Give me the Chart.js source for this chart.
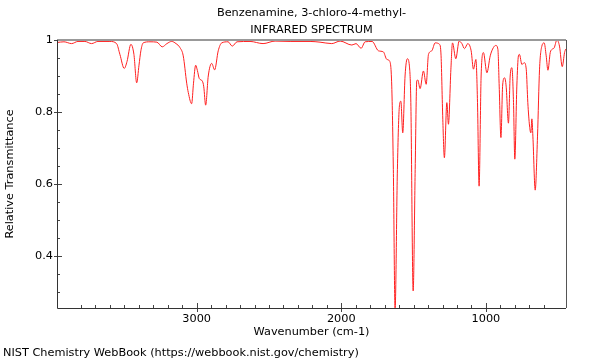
<!DOCTYPE html>
<html>
<head>
<meta charset="utf-8">
<script src="https://cdn.jsdelivr.net/npm/chart.js@4.4.1/dist/chart.umd.min.js"></script>
<style>
  body { margin: 0; background: #fff; }
  #chartIR { display: block; }
</style>
</head>
<body>
<canvas id="chartIR" width="600" height="360"></canvas>
<script>
const titleLines = ["Benzenamine, 3-chloro-4-methyl-", "INFRARED SPECTRUM"];
const xTitle = "Wavenumber (cm-1)";
const yTitle = "Relative Transmittance";
const footer = "NIST Chemistry WebBook (https://webbook.nist.gov/chemistry)";

// wavenumber (cm-1) and relative transmittance
const wavenumber = [
  3967, 3918, 3865, 3821, 3773, 3727, 3683, 3600, 3554, 3531,
  3501, 3482, 3455, 3434, 3415, 3399, 3386, 3370, 3323, 3275,
  3238, 3206, 3173, 3143, 3116, 3093, 3069, 3058, 3035, 3022,
  3007, 2995, 2982, 2961, 2951, 2938, 2920, 2896, 2876, 2851,
  2827, 2783, 2754, 2721, 2631, 2541, 2458, 2354, 2216, 2147,
  2066, 2008, 1927, 1898, 1863, 1835, 1787, 1743, 1709, 1685,
  1667, 1651, 1640, 1628, 1612, 1598, 1588, 1575, 1559, 1543,
  1529, 1519, 1503, 1489, 1478, 1471, 1455, 1432, 1413, 1397,
  1374, 1351, 1321, 1310, 1298, 1287, 1270, 1259, 1242, 1231,
  1208, 1185, 1166, 1148, 1125, 1102, 1086, 1069, 1058, 1047,
  1033, 1017, 993, 970, 948, 931, 917, 908, 896, 884,
  871, 860, 844, 832, 820, 809, 800, 786, 775, 768,
  751, 735, 721, 710, 698, 689, 682, 675, 659, 643,
  629, 613, 597, 583, 571, 555, 543, 528, 509, 491,
  472, 456, 448
];
const transmittance = [
  0.993, 0.995, 0.990, 0.996, 0.996, 0.990, 0.996, 0.996, 0.990, 0.960,
  0.921, 0.940, 0.988, 0.960, 0.881, 0.930, 0.970, 0.992, 0.995, 0.994,
  0.981, 0.990, 0.996, 0.990, 0.979, 0.956, 0.880, 0.854, 0.823, 0.880,
  0.930, 0.915, 0.893, 0.886, 0.870, 0.819, 0.900, 0.935, 0.917, 0.970,
  0.992, 0.995, 0.983, 0.995, 0.996, 0.990, 0.997, 0.996, 0.996, 0.994,
  0.990, 0.997, 0.986, 0.990, 0.977, 0.995, 0.996, 0.970, 0.967, 0.946,
  0.942, 0.872, 0.640, 0.250, 0.640, 0.817, 0.830, 0.742, 0.900, 0.948,
  0.928, 0.826, 0.303, 0.640, 0.886, 0.889, 0.865, 0.914, 0.877, 0.960,
  0.970, 0.992, 0.988, 0.956, 0.780, 0.673, 0.826, 0.766, 0.919, 0.992,
  0.948, 0.997, 0.990, 0.976, 0.990, 0.970, 0.919, 0.946, 0.826, 0.594,
  0.900, 0.965, 0.909, 0.956, 0.979, 0.985, 0.974, 0.872, 0.729, 0.875,
  0.895, 0.872, 0.769, 0.900, 0.923, 0.826, 0.669, 0.872, 0.956, 0.960,
  0.932, 0.937, 0.919, 0.826, 0.761, 0.742, 0.781, 0.733, 0.583, 0.733,
  0.919, 0.983, 0.992, 0.956, 0.916, 0.965, 0.974, 0.978, 1.000, 0.983,
  0.926, 0.965, 0.975
];

const xRange = [446, 3966];
const yRange = [0.2556, 1];
const xMinorStep = 100, xMajorStep = 1000;
const yMinorStep = 0.05, yMajorStep = 0.2;

const FONT = "DejaVu Sans";
const FONT_SIZE = 11.3;
const isMajor = (v, step) => Math.abs(v / step - Math.round(v / step)) < 1e-6;

const points = wavenumber.map((w, i) => ({ x: w, y: transmittance[i] }));

// ticks, frame and texts drawn on top of the chart
const decorPlugin = {
  id: "decor",
  afterDraw(chart) {
    const ctx = chart.ctx;
    const a = chart.chartArea;
    const xs = chart.scales.x, ys = chart.scales.y;
    ctx.save();

    ctx.strokeStyle = "#444";
    ctx.lineWidth = 1;
    ctx.beginPath();
    xs.ticks.forEach((t) => {
      const px = Math.round(xs.getPixelForValue(t.value)) + 0.5;
      if (isMajor(t.value, xMajorStep)) {
        ctx.moveTo(px, a.bottom - 5); ctx.lineTo(px, a.bottom + 4);
      } else {
        ctx.moveTo(px, a.bottom - 3); ctx.lineTo(px, a.bottom);
      }
    });
    ys.ticks.forEach((t) => {
      const py = Math.round(ys.getPixelForValue(t.value)) + 0.5;
      if (isMajor(t.value, yMajorStep)) {
        ctx.moveTo(a.left - 3, py); ctx.lineTo(a.left + 5, py);
      } else {
        ctx.moveTo(a.left, py); ctx.lineTo(a.left + 3, py);
      }
    });
    ctx.stroke();

    // frame
    ctx.strokeStyle = "#999";
    ctx.lineWidth = 2;
    ctx.beginPath();
    ctx.moveTo(a.left, a.top); ctx.lineTo(a.right, a.top);
    ctx.stroke();
    ctx.strokeStyle = "#555";
    ctx.lineWidth = 1;
    ctx.beginPath();
    ctx.moveTo(Math.round(a.right) + 0.5, a.top);
    ctx.lineTo(Math.round(a.right) + 0.5, a.bottom);
    ctx.stroke();
    ctx.strokeStyle = "#333";
    ctx.beginPath();
    ctx.moveTo(Math.round(a.left) + 0.5, a.top);
    ctx.lineTo(Math.round(a.left) + 0.5, Math.round(a.bottom) + 0.5);
    ctx.lineTo(a.right, Math.round(a.bottom) + 0.5);
    ctx.stroke();

    // texts
    ctx.fillStyle = "#000";
    ctx.font = FONT_SIZE + "px '" + FONT + "'";
    ctx.textAlign = "center";
    ctx.textBaseline = "middle";
    const cx = (a.left + a.right) / 2;
    ctx.fillText(titleLines[0], cx, 13);
    ctx.fillText(titleLines[1], cx, 30);
    ctx.fillText(xTitle, cx, 332);
    ctx.textAlign = "left";
    ctx.fillText(footer, 3, 353);
    ctx.save();
    ctx.translate(10, (a.top + a.bottom) / 2);
    ctx.rotate(-Math.PI / 2);
    ctx.textAlign = "center";
    ctx.fillText(yTitle, 0, 0);
    ctx.restore();

    ctx.restore();
  },
};

new Chart(document.getElementById("chartIR"), {
  type: "line",
  data: {
    datasets: [
      {
        data: points,
        borderColor: "#ff2020",
        borderWidth: 1,
        pointRadius: 0,
        fill: false,
        cubicInterpolationMode: "monotone",
      },
    ],
  },
  options: {
    responsive: false,
    animation: false,
    events: [],
    layout: { padding: { left: 0, top: 40, right: 34, bottom: 0 } },
    plugins: { legend: { display: false }, tooltip: { enabled: false } },
    scales: {
      x: {
        type: "linear",
        reverse: true,
        min: xRange[0],
        max: xRange[1],
        afterFit: (s) => { s.height = 52; },
        afterBuildTicks: (s) => {
          s.ticks = s.ticks.filter((t) => isMajor(t.value, xMinorStep));
        },
        grid: { display: false, drawTicks: false },
        border: { display: false },
        ticks: {
          stepSize: xMinorStep,
          autoSkip: false,
          maxRotation: 0,
          padding: 4,
          color: "#000",
          font: { family: FONT, size: FONT_SIZE },
          callback: (v) => (isMajor(v, xMajorStep) ? String(v) : ""),
        },
      },
      y: {
        min: yRange[0],
        max: yRange[1],
        afterFit: (s) => { s.width = 57; },
        afterBuildTicks: (s) => {
          s.ticks = s.ticks.filter((t) => isMajor(t.value, yMinorStep));
        },
        grid: { display: false, drawTicks: false },
        border: { display: false },
        ticks: {
          stepSize: yMinorStep,
          autoSkip: false,
          padding: 4,
          color: "#000",
          font: { family: FONT, size: FONT_SIZE },
          callback: (v) => (isMajor(v, yMajorStep) ? String(Math.round(v * 10) / 10) : ""),
        },
      },
    },
  },
  plugins: [decorPlugin],
});
</script>
</body>
</html>
